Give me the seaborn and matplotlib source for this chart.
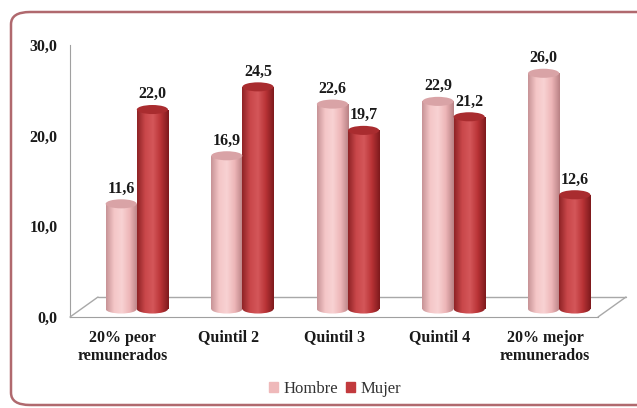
import numpy as np
import pandas as pd
import matplotlib
matplotlib.use("Agg")
import matplotlib.pyplot as plt
import matplotlib.transforms as mtransforms
from matplotlib.patches import Ellipse, FancyBboxPatch
from matplotlib.colors import LinearSegmentedColormap
from matplotlib.ticker import FuncFormatter, FixedLocator
import seaborn as sns

# data
categorias = ["20% peor\nremunerados", "Quintil 2", "Quintil 3", "Quintil 4", "20% mejor\nremunerados"]
hombre = [11.6, 16.9, 22.6, 22.9, 26.0]
mujer = [22.0, 24.5, 19.7, 21.2, 12.6]
series = ["Hombre", "Mujer"]

df = pd.DataFrame({
    "categoria": categorias * 2,
    "valor": hombre + mujer,
    "sexo": ["Hombre"] * 5 + ["Mujer"] * 5,
})

sns.set_style("white")
plt.rcParams["font.family"] = ["Liberation Serif", "DejaVu Serif"]

colores = {"Hombre": "#EFB9BA", "Mujer": "#C23A3D"}
# cylinder shading: dark edge -> light -> dark edge
cmaps = {
    "Hombre": LinearSegmentedColormap.from_list("h", ["#C89497", "#F4C6C7", "#F8D2D3", "#EDB5B7", "#B98285"]),
    "Mujer": LinearSegmentedColormap.from_list("m", ["#8F2326", "#C9474A", "#D4575A", "#B93336", "#7E1A1D"]),
}
tapas = {"Hombre": "#D9A3A6", "Mujer": "#A92C2F"}

fig = plt.figure(figsize=(6.37, 4.08), dpi=100)
ax = fig.add_axes([70 / 637, 1 - 317 / 408, 528 / 637, 272 / 408])

sns.barplot(data=df, x="categoria", y="valor", hue="sexo", palette=colores,
            width=0.59, ax=ax, legend=False, saturation=1, errorbar=None)

ax.set_xlim(-0.5, 4.5)
ax.set_ylim(0, 30)
ax.set_yticks([0, 10, 20, 30])
ax.yaxis.set_major_formatter(FuncFormatter(lambda v, p: f"{v:.1f}".replace(".", ",")))
ax.set_xlabel("")
ax.set_ylabel("")

for s in ["top", "right"]:
    ax.spines[s].set_visible(False)
ax.spines["left"].set_color("#A0A0A0")
ax.spines["bottom"].set_color("#A0A0A0")
ax.tick_params(axis="y", which="major", direction="out", length=5, color="#A0A0A0",
               labelsize=11.5, pad=4)
ax.tick_params(axis="x", which="major", length=0, labelsize=11.5, pad=9)
ax.xaxis.set_minor_locator(FixedLocator([0.5, 1.5, 2.5, 3.5, 4.5]))
ax.tick_params(axis="x", which="minor", direction="out", length=5, color="#A0A0A0")
for lab in ax.get_xticklabels() + ax.get_yticklabels():
    lab.set_fontweight("bold")
    lab.set_color("#1A1A1A")

# 3D offset (depth)
prof = mtransforms.ScaledTranslation(14 / 100, 8 / 100, fig.dpi_scale_trans)
fondo = mtransforms.ScaledTranslation(28 / 100, 20 / 100, fig.dpi_scale_trans)
tr_fondo = ax.transData + fondo

# floor
ax.plot([-0.5, 4.5], [0, 0], transform=tr_fondo, color="#A8A8A8", lw=1, clip_on=False)
for xe in [-0.5, 4.5]:
    p0 = ax.transData.transform((xe, 0))
    p1 = tr_fondo.transform((xe, 0))
    fig.add_artist(plt.Line2D([p0[0] / fig.bbox.width, p1[0] / fig.bbox.width],
                              [p0[1] / fig.bbox.height, p1[1] / fig.bbox.height],
                              color="#A8A8A8", lw=1))

alto_elipse = 1.0
tr_barra = ax.transData + prof
grad = np.linspace(0, 1, 64).reshape(1, -1)
patches = list(ax.patches)
for i, patch in enumerate(patches):
    serie = series[i // 5]
    x0 = patch.get_x()
    w = patch.get_width()
    h = patch.get_height()
    patch.set_transform(tr_barra)
    patch.set_visible(False)
    # bottom rounded edge
    base = Ellipse((x0 + w / 2, 0), w, alto_elipse, transform=tr_barra)
    cuerpo = plt.Rectangle((x0, 0), w, h, transform=tr_barra)
    for clip in [base, cuerpo]:
        im = ax.imshow(grad, cmap=cmaps[serie], aspect="auto",
                       extent=(x0, x0 + w, -alto_elipse, h), transform=tr_barra,
                       zorder=3 + i % 5 * 0.01, clip_on=True)
        im.set_clip_path(clip)
    tapa = Ellipse((x0 + w / 2, h), w, alto_elipse, transform=tr_barra,
                   facecolor=tapas[serie], edgecolor="none", zorder=3.5)
    ax.add_patch(tapa)
    ax.text(x0 + w / 2, h + 0.8, f"{h:.1f}".replace(".", ","), transform=tr_barra,
            ha="center", va="bottom", fontsize=11.5, fontweight="bold", color="#1A1A1A")

ax.set_xlim(-0.5, 4.5)
ax.set_ylim(0, 30)

# legend
handles = [plt.Rectangle((0, 0), 1, 1, color=colores[s]) for s in series]
fig.legend(handles, series, loc="center", bbox_to_anchor=(335 / 637, 1 - 389 / 408),
           ncol=2, frameon=False, fontsize=12, handlelength=0.55, handleheight=0.55,
           handletextpad=0.3, columnspacing=0.5, labelcolor="#333333")

# rounded border
borde = FancyBboxPatch((11 / 637, 3 / 408), 700 / 637, 393 / 408,
                       boxstyle="round,pad=0,rounding_size=0.03",
                       transform=fig.transFigure, facecolor="none",
                       edgecolor="#B0696E", lw=1.8, clip_on=False)
fig.add_artist(borde)

fig.savefig("out.png", dpi=100)
